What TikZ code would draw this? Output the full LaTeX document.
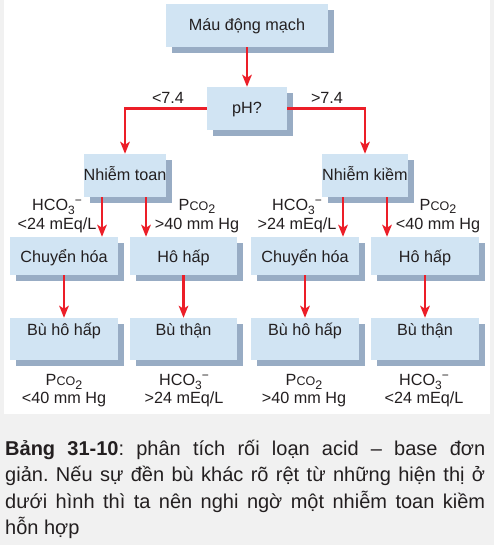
\documentclass[tikz,border=0pt]{standalone}
\usepackage{fontspec}
\setmainfont{Liberation Sans}
\usetikzlibrary{arrows.meta,shadows}
\definecolor{boxfill}{RGB}{209,228,243}
\definecolor{shadowc}{RGB}{152,172,196}
\definecolor{arrred}{RGB}{236,30,40}
\definecolor{bggray}{RGB}{241,241,241}
\definecolor{txt}{RGB}{35,31,32}
\frenchspacing
\newcommand{\hcoion}{HCO\raisebox{-4pt}{\fontsize{12}{12}\selectfont 3}\raisebox{6pt}{\fontsize{12}{12}\selectfont −}}
\newcommand{\pcogas}{P\kern0.3pt{\fontsize{12.5}{12}\selectfont CO}\raisebox{-3.5pt}{\fontsize{12.5}{12}\selectfont 2}}
\begin{document}
\begin{tikzpicture}[x=1pt,y=-1pt,
  box/.style={fill=boxfill, inner xsep=0pt, inner ysep=0pt,
    drop shadow={shadow xshift=6pt, shadow yshift=-6pt, fill=shadowc, opacity=1},
    font=\fontsize{16.2}{19}\selectfont, text=txt},
  topbox/.style={box, minimum height=43pt, text height=27pt, text depth=16pt},
  midbox/.style={box, minimum height=38pt, text height=25pt, text depth=13pt},
  lowbox/.style={box, minimum height=42pt, text height=17pt, text depth=25pt},
  lab/.style={inner sep=0pt, text=txt, font=\fontsize{16.2}{19}\selectfont, align=center},
  lab2/.style={inner sep=0pt, text=txt, font=\fontsize{16.2}{18}\selectfont, align=center},
  arr/.style={draw=arrred, line width=2.5pt, -{Stealth[length=12pt,width=9.5pt,inset=3pt]}, arrred}
]
\useasboundingbox (0,0) rectangle (494,545);
\fill[bggray] (0,0) rectangle (494,545);
\fill[white] (4,0) rectangle (490,414);

\node[topbox, minimum width=162pt] (m) at (247,25.5) {Máu động mạch};
\node[topbox, minimum width=80pt] (ph) at (247,108.5) {pH?};
\node[topbox, minimum width=80pt] (toan) at (125,175.5) {Nhiễm toan};
\node[topbox, minimum width=80pt] (kiem) at (365,175.5) {Nhiễm kiềm};

\node[midbox, minimum width=108pt] (c1) at (64,256) {Chuyển hóa};
\node[midbox, minimum width=107pt] (h1) at (183.5,256) {Hô hấp};
\node[midbox, minimum width=108pt] (c2) at (305,256) {Chuyển hóa};
\node[midbox, minimum width=108pt] (h2) at (425,256) {Hô hấp};

\node[lowbox, minimum width=108pt] (b1) at (64,339) {Bù hô hấp};
\node[lowbox, minimum width=107pt] (b2) at (183.5,339) {Bù thận};
\node[lowbox, minimum width=108pt] (b3) at (305,339) {Bù hô hấp};
\node[lowbox, minimum width=108pt] (b4) at (425,339) {Bù thận};

\draw[arr] (m) -- (ph);
\draw[arr] (ph.west) -| (toan.north);
\draw[arr] (ph.east) -| (kiem.north);
\node[lab] (lt) at (168,98) {<7.4};
\node[lab] (gt) at (327,98) {>7.4};

\draw[arr] ([xshift=-23pt]toan.south) -- ([xshift=-23pt]toan.south |- c1.north);
\draw[arr] ([xshift=21pt]toan.south) -- ([xshift=21pt]toan.south |- h1.north);
\draw[arr] ([xshift=-22pt]kiem.south) -- ([xshift=-22pt]kiem.south |- c2.north);
\draw[arr] ([xshift=22pt]kiem.south) -- ([xshift=22pt]kiem.south |- h2.north);

\node[lab] (l1) at (57,216) {\hcoion\\<24 mEq/L};
\node[lab] (l2) at (197,216) {\pcogas\\>40 mm Hg};
\node[lab] (l3) at (297,216) {\hcoion\\>24 mEq/L};
\node[lab] (l4) at (438,216) {\pcogas\\<40 mm Hg};

\draw[arr] (c1) -- (b1);
\draw[arr] (h1) -- (b2);
\draw[arr] (c2) -- (b3);
\draw[arr] (h2) -- (b4);

\node[lab2] (r1) at (64,391) {\pcogas\\<40 mm Hg};
\node[lab2] (r2) at (184,391) {\hcoion\\>24 mEq/L};
\node[lab2] (r3) at (304,391) {\pcogas\\>40 mm Hg};
\node[lab2] (r4) at (424,391) {\hcoion\\<24 mEq/L};

\node[anchor=base west, inner sep=0pt, text=txt] (cap) at (5,455) {\begin{minipage}[t]{480pt}\fontsize{20}{26.5}\selectfont\frenchspacing\tolerance=10000\hyphenpenalty=10000
\textbf{Bảng 31-10}: phân tích rối loạn acid – base đơn\linebreak
giản. Nếu sự đền bù khác rõ rệt từ những hiện thị ở\linebreak
dưới hình thì ta nên nghi ngờ một nhiễm toan kiềm\linebreak
hỗn hợp\end{minipage}};
\end{tikzpicture}
\end{document}
